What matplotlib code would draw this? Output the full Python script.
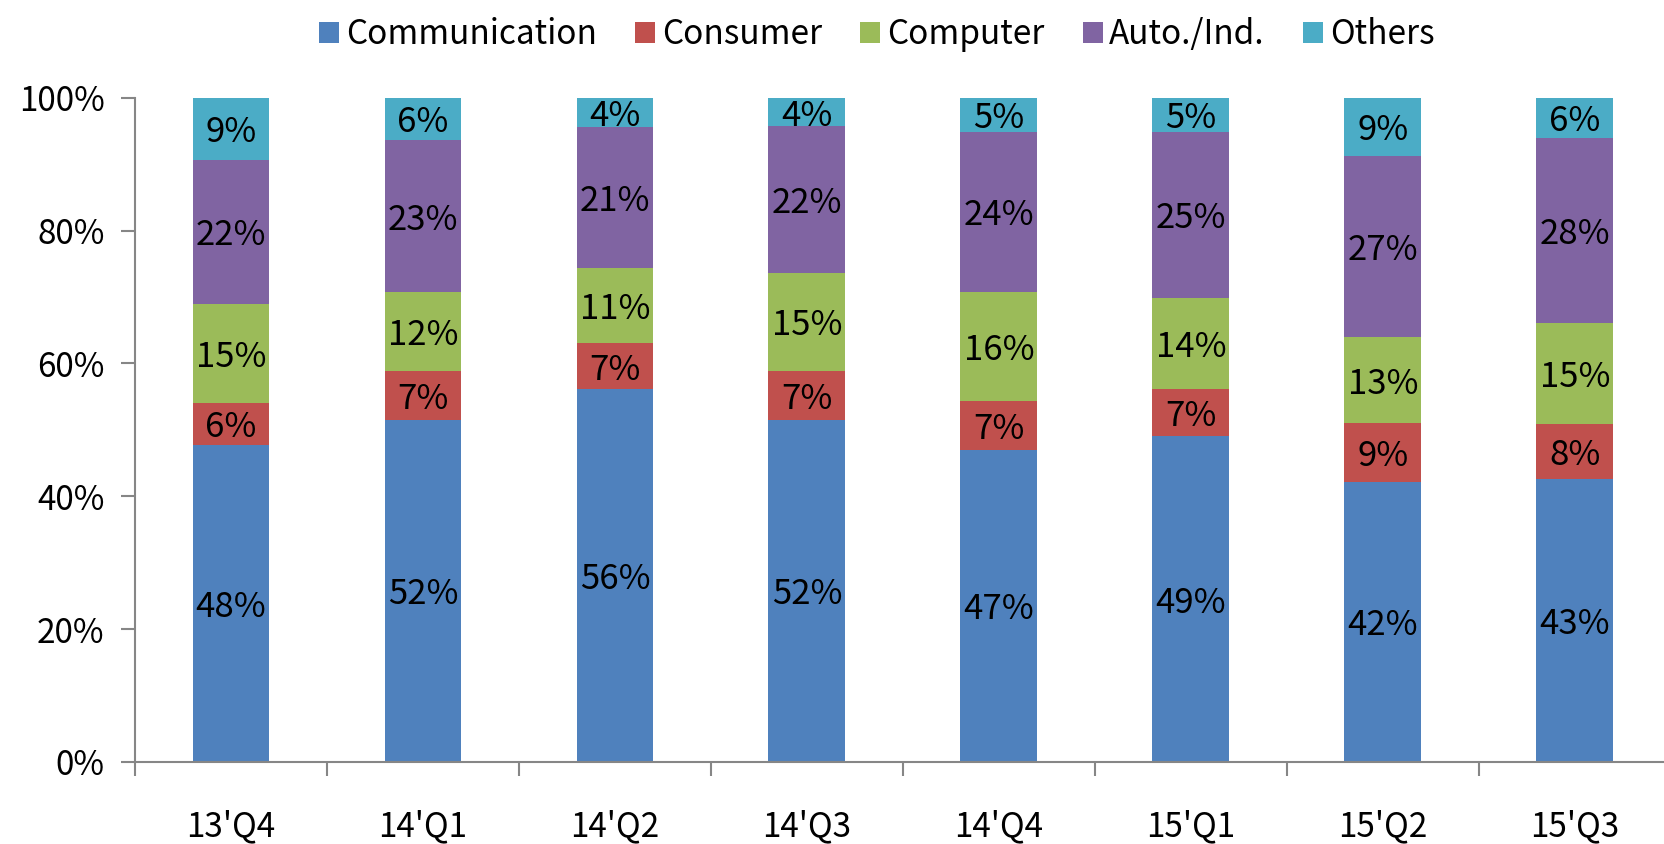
import matplotlib
matplotlib.use("Agg")
import matplotlib.pyplot as plt
import numpy as np

plt.rcParams['font.family'] = ['Noto Sans CJK TC', 'DejaVu Sans']
plt.rcParams['font.weight'] = 'medium'

quarters = ["13'Q4", "14'Q1", "14'Q2", "14'Q3", "14'Q4", "15'Q1", "15'Q2", "15'Q3"]
communication = [47.7, 51.5, 56.2, 51.5, 47.0, 49.0, 42.2, 42.6]
consumer = [6.4, 7.4, 6.8, 7.4, 7.4, 7.2, 8.8, 8.3]
computer = [14.9, 11.8, 11.4, 14.7, 16.4, 13.6, 13.0, 15.2]
auto_ind = [21.6, 22.9, 21.2, 22.1, 24.1, 25.1, 27.2, 27.8]
others = [9.4, 6.4, 4.3, 4.3, 5.1, 5.1, 8.8, 6.1]

series = [("Communication", communication, "#4F81BD"),
          ("Consumer", consumer, "#C0504D"),
          ("Computer", computer, "#9BBB59"),
          ("Auto./Ind.", auto_ind, "#8064A2"),
          ("Others", others, "#4BACC6")]

fig = plt.figure(figsize=(16.64, 8.44), dpi=100)
ax = fig.add_axes([0.0811, 0.0972, 0.923, 0.787])

x = np.arange(len(quarters))
bottom = np.zeros(len(quarters))
for name, vals, color in series:
    vals = np.array(vals)
    ax.bar(x, vals, 0.4, bottom=bottom, color=color, label=name, zorder=2)
    for xi, b, v in zip(x, bottom, vals):
        ax.text(xi, b + v / 2 - 0.6, "%d%%" % round(v), ha="center", va="center",
                fontsize=25, color="black", zorder=3)
    bottom += vals

ax.set_xlim(-0.5, len(quarters) - 0.5)
ax.set_ylim(0, 100)
ax.set_yticks(range(0, 101, 20))
ax.set_yticklabels(["%d%%" % v for v in range(0, 101, 20)], fontsize=24)
ax.set_xticks(x)
ax.set_xticklabels(quarters, fontsize=24)
ax.set_xticks(np.arange(-0.5, len(quarters), 1), minor=True)
ax.tick_params(axis="x", which="major", length=0, pad=34)
ax.tick_params(axis="x", which="minor", length=10, color="#868686", width=1.5, direction="out")
ax.tick_params(axis="y", length=10, color="#868686", width=1.5, pad=12)

for s in ["top", "right"]:
    ax.spines[s].set_visible(False)
for s in ["left", "bottom"]:
    ax.spines[s].set_color("#868686")
    ax.spines[s].set_linewidth(1.5)

fig.legend(loc="upper center", bbox_to_anchor=(0.527, 1.015), ncol=5, frameon=False,
           fontsize=24, handlelength=0.6, handleheight=0.6, handletextpad=0.2,
           columnspacing=1.15)

fig.savefig("out.png", dpi=100)
